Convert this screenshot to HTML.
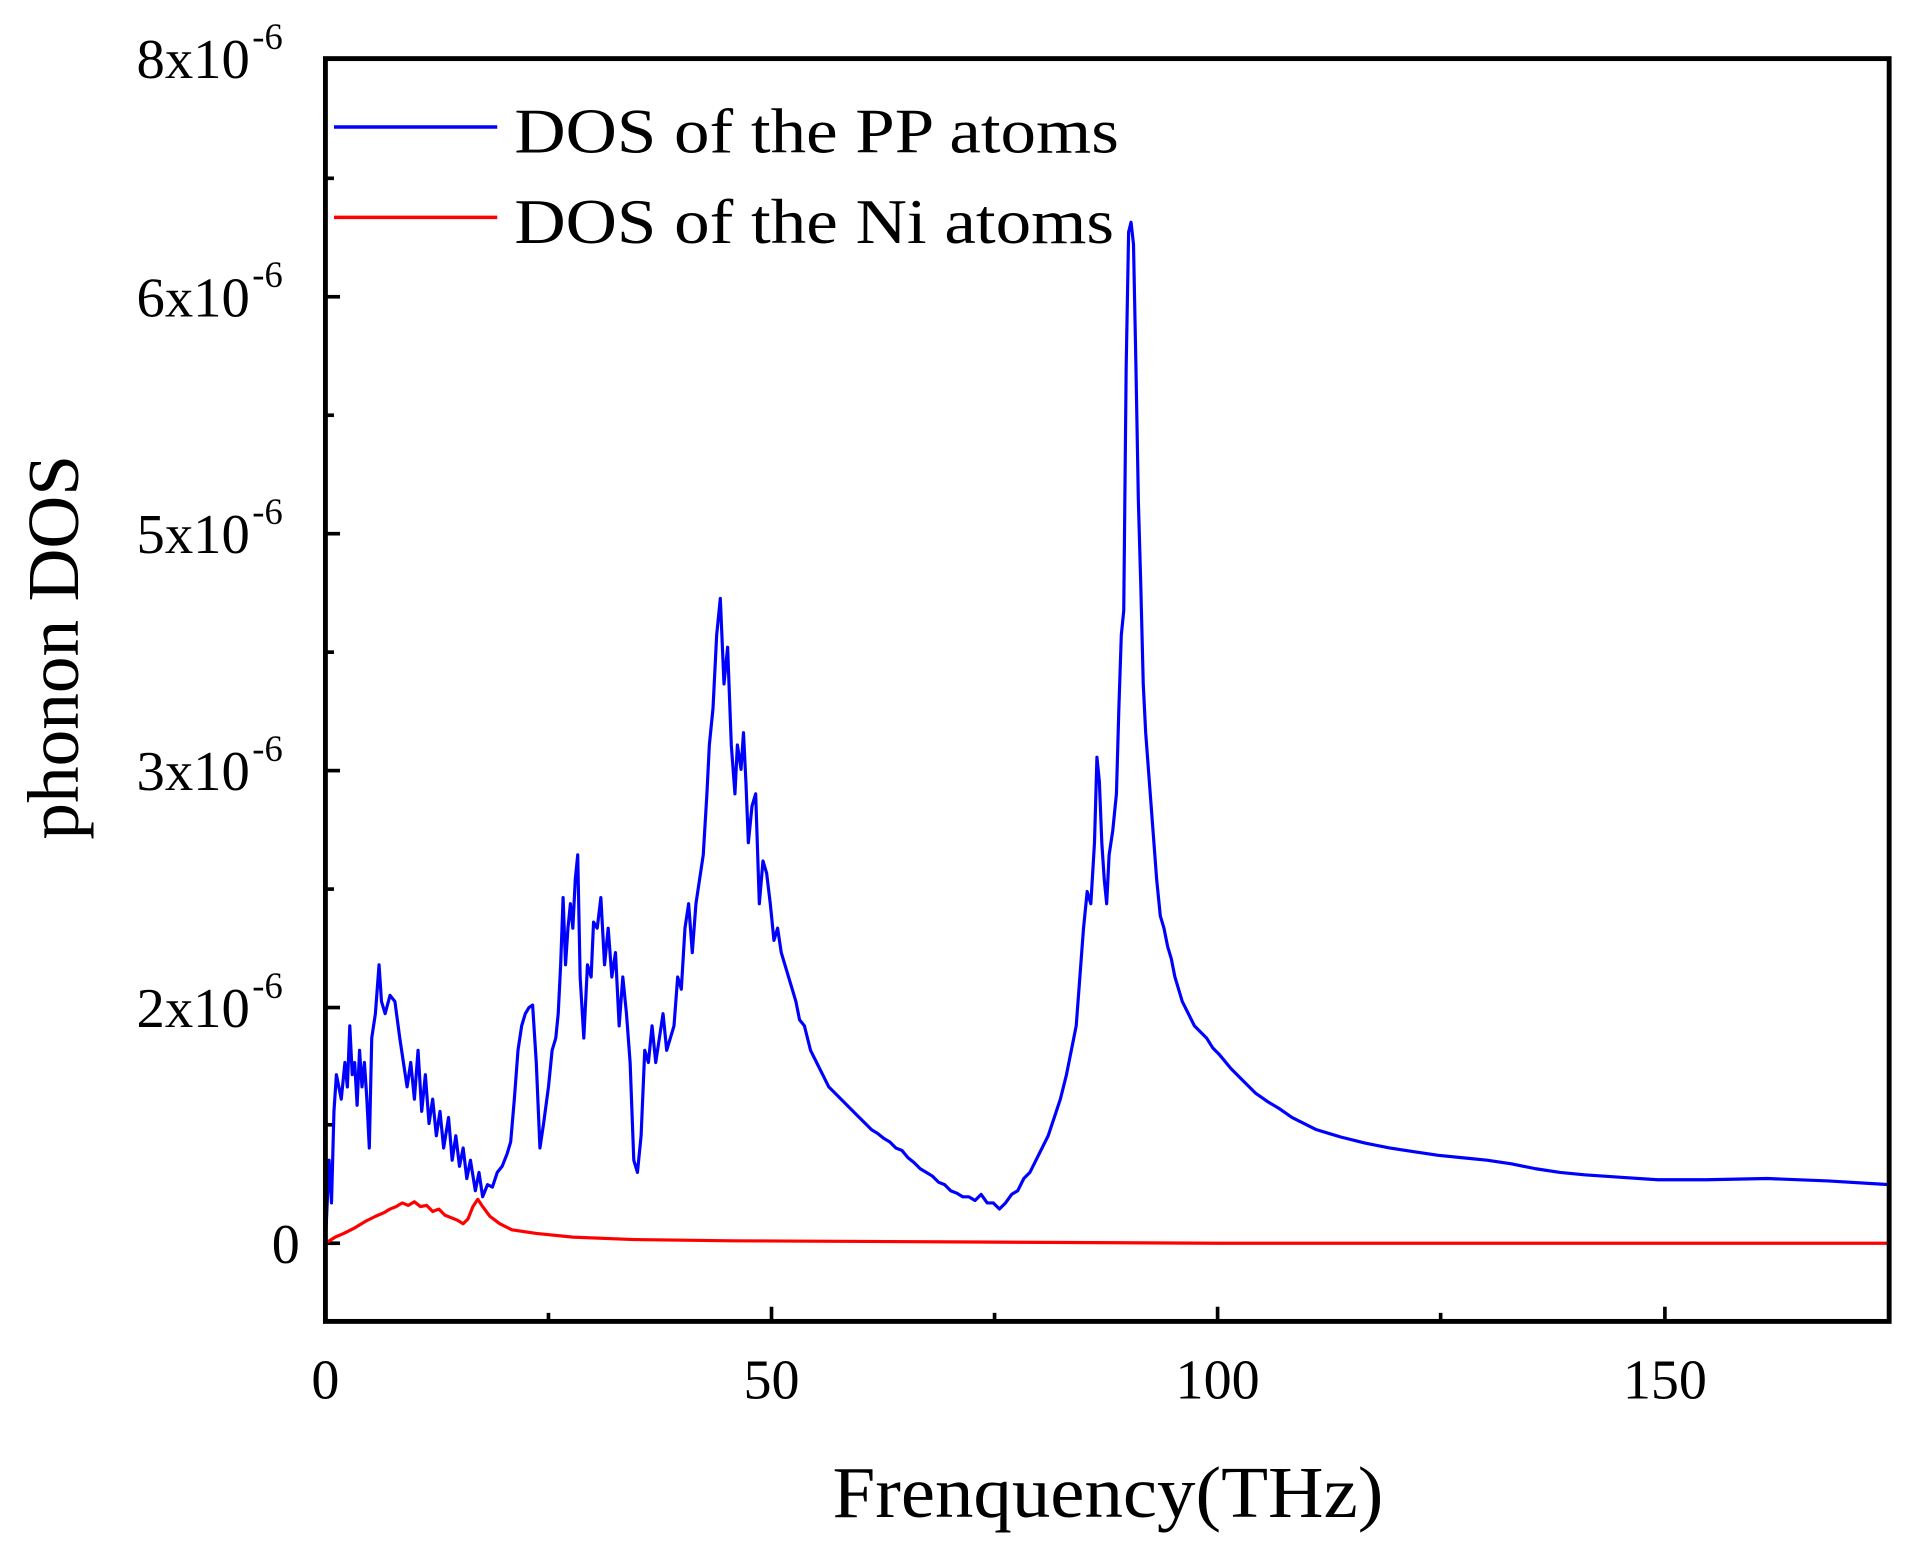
<!DOCTYPE html>
<html><head><meta charset="utf-8"><style>html,body{margin:0;padding:0;background:#fff;}svg{display:block}</style></head>
<body>
<svg width="1905" height="1551" viewBox="0 0 1563 1270" preserveAspectRatio="none" xmlns="http://www.w3.org/2000/svg" font-family="Liberation Serif, serif">
<rect width="1563" height="1270" fill="#fff"/>
<g stroke="#000" stroke-width="3">
<line x1="267" y1="243" x2="279" y2="243"/><line x1="267" y1="437" x2="279" y2="437"/><line x1="267" y1="631" x2="279" y2="631"/><line x1="267" y1="825" x2="279" y2="825"/><line x1="267" y1="1018" x2="279" y2="1018"/>
<line x1="267" y1="146" x2="274" y2="146"/><line x1="267" y1="340" x2="274" y2="340"/><line x1="267" y1="534" x2="274" y2="534"/><line x1="267" y1="728" x2="274" y2="728"/><line x1="267" y1="921" x2="274" y2="921"/>
<line x1="633" y1="1082" x2="633" y2="1070"/><line x1="999" y1="1082" x2="999" y2="1070"/><line x1="1366" y1="1082" x2="1366" y2="1070"/>
<line x1="450" y1="1082" x2="450" y2="1075"/><line x1="816" y1="1082" x2="816" y2="1075"/><line x1="1182" y1="1082" x2="1182" y2="1075"/>
</g>
<polyline fill="none" stroke="#ff0000" stroke-width="2.6" stroke-linejoin="round" points="267,1018 275,1013 282,1010 290,1006 300,1000 308,996 315,993 320,990 325,988 330,985 335,987 340,984 345,988 350,987 355,992 360,990 365,995 370,997 375,999 380,1002 384,998 388,988 392,982 396,988 402,996 410,1002 420,1007 440,1010 470,1013 520,1015 600,1016 800,1017 1000,1018 1550,1018"/>
<polyline fill="none" stroke="#0000ff" stroke-width="2.6" stroke-linejoin="round" points="267,1018 270,950 272,985 274,910 276,880 280,900 283,870 285,890 287,840 289,880 291,870 293,905 295,860 297,890 299,870 301,900 303,940 305,850 308,830 311,790 313,820 316,830 320,815 324,820 328,850 331,870 334,890 337,870 340,900 343,860 346,910 349,880 352,920 355,900 358,930 361,910 364,940 368,915 371,950 374,930 377,955 380,940 383,965 386,950 390,975 393,960 396,980 400,970 404,972 408,960 412,955 416,945 419,935 422,900 425,860 428,840 431,830 434,825 437,823 440,870 443,940 446,920 450,890 453,860 456,850 458,830 460,790 462,735 464,790 466,760 468,740 470,760 472,720 474,700 476,800 479,850 482,790 485,800 487,755 490,760 493,735 496,790 499,760 502,800 505,780 508,840 511,800 514,830 517,870 520,950 523,960 526,930 529,860 532,870 535,840 538,870 541,850 544,830 547,860 550,850 553,840 556,800 559,810 562,760 565,740 568,780 571,740 574,720 577,700 580,650 582,610 585,580 588,520 591,490 594,560 597,530 600,610 603,650 605,610 608,630 610,600 612,640 614,690 617,660 620,650 623,740 626,705 629,715 632,740 635,770 638,760 641,780 644,790 647,800 650,810 653,820 656,835 660,840 665,860 670,870 675,880 680,890 685,895 690,900 695,905 700,910 705,915 710,920 715,925 720,928 725,932 730,935 735,940 740,942 745,948 750,952 755,957 760,960 765,963 770,968 775,970 780,975 785,977 790,980 795,980 800,983 805,978 810,985 815,985 820,990 825,985 830,978 835,975 840,965 845,960 850,950 855,940 860,930 865,915 870,900 875,880 880,855 883,840 886,800 889,760 892,730 895,740 898,690 900,620 902,640 904,690 906,720 908,740 910,700 913,680 916,650 918,580 920,520 922,500 924,300 926,190 928,182 930,200 932,300 934,410 936,480 938,560 940,600 943,640 946,680 949,720 952,750 955,760 958,775 961,785 964,800 967,810 970,820 975,830 980,840 985,845 990,850 995,858 1000,863 1010,875 1020,885 1030,895 1040,902 1050,908 1060,915 1070,920 1080,925 1090,928 1100,931 1120,936 1140,940 1160,943 1180,946 1200,948 1220,950 1240,953 1260,957 1280,960 1300,962 1330,964 1360,966 1400,966 1450,965 1500,967 1550,970"/>
<rect x="267" y="48" width="1283" height="1034" fill="none" stroke="#000" stroke-width="4"/>
<line x1="274" y1="104" x2="408" y2="104" stroke="#0000ff" stroke-width="2.8"/>
<line x1="274" y1="178" x2="408" y2="178" stroke="#ff0000" stroke-width="2.8"/>
<g font-size="52" fill="#000">
<text x="422" y="125" textLength="496" lengthAdjust="spacingAndGlyphs">DOS of the PP atoms</text>
<text x="422" y="199" textLength="492" lengthAdjust="spacingAndGlyphs">DOS of the Ni atoms</text>
</g>
<g font-size="46" fill="#000">
<text x="112" y="64" textLength="93" lengthAdjust="spacingAndGlyphs">8x10</text><text x="207" y="40" font-size="30">-6</text>
<text x="112" y="259" textLength="93" lengthAdjust="spacingAndGlyphs">6x10</text><text x="207" y="235" font-size="30">-6</text>
<text x="112" y="453" textLength="93" lengthAdjust="spacingAndGlyphs">5x10</text><text x="207" y="429" font-size="30">-6</text>
<text x="112" y="647" textLength="93" lengthAdjust="spacingAndGlyphs">3x10</text><text x="207" y="623" font-size="30">-6</text>
<text x="112" y="841" textLength="93" lengthAdjust="spacingAndGlyphs">2x10</text><text x="207" y="817" font-size="30">-6</text>
<text x="246" y="1034" text-anchor="end">0</text>
</g>
<g font-size="46" fill="#000" text-anchor="middle">
<text x="267" y="1145">0</text><text x="633" y="1145">50</text><text x="999" y="1145">100</text><text x="1366" y="1145">150</text>
</g>
<text x="683" y="1242" font-size="60" textLength="452" lengthAdjust="spacingAndGlyphs">Frenquency(THz)</text>
<text transform="translate(64,530) rotate(-90)" font-size="60" text-anchor="middle">phonon DOS</text>
</svg>
</body></html>
